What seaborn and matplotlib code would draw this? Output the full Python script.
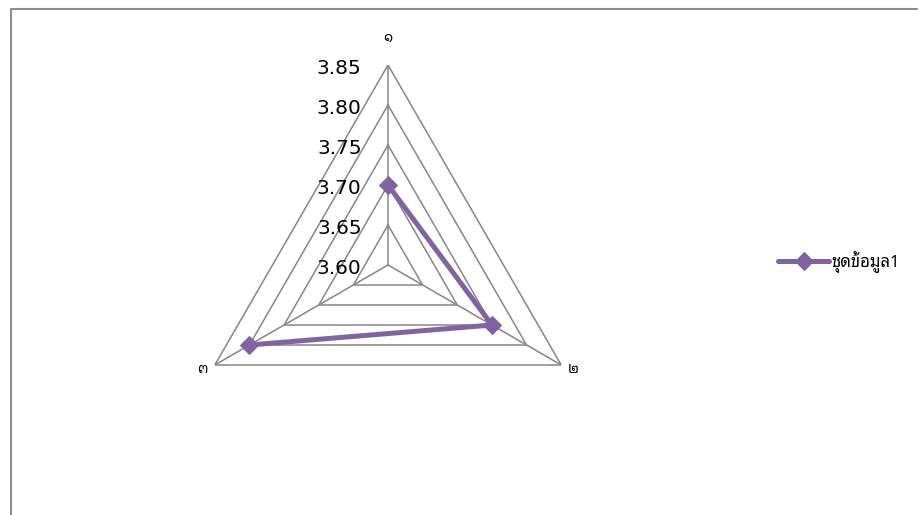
import matplotlib
matplotlib.use("Agg")
import matplotlib.pyplot as plt
import seaborn as sns
import numpy as np

categories = ["๑", "๒", "๓"]
values = [3.70, 3.75, 3.80]
series_name = "ชุดข้อมูล1"
r_ticks = [3.60, 3.65, 3.70, 3.75, 3.80, 3.85]
tick_labels = ["3.60", "3.65", "3.70", "3.75", "3.80", "3.85"]

LINE_COLOR = "#8064A2"
GRID_COLOR = "#868686"

sns.set_theme(style="white")
plt.rcParams["font.family"] = ["Noto Sans Thai Looped", "DejaVu Sans"]
plt.rcParams["text.color"] = "black"

fig = plt.figure(figsize=(9.18, 5.15), dpi=100)
ax = fig.add_axes([188 / 918, 50 / 515, 400 / 918, 400 / 515], projection="polar")
ax.set_theta_offset(np.pi / 2)
ax.set_theta_direction(-1)
ax.set_ylim(r_ticks[0], r_ticks[-1])

theta = np.linspace(0, 2 * np.pi, len(categories), endpoint=False)
theta_closed = np.append(theta, theta[0])

# triangular grid instead of the default circles
ax.grid(False)
ax.spines["polar"].set_visible(False)
ax.set_xticks([])
ax.set_yticks([])
for r in r_ticks[1:]:
    ax.plot(theta_closed, [r] * len(theta_closed), color=GRID_COLOR, lw=1.1, zorder=1)
for t in theta:
    ax.plot([t, t], [r_ticks[0], r_ticks[-1]], color=GRID_COLOR, lw=1.1, zorder=1)

for r, lab in zip(r_ticks, tick_labels):
    ax.annotate(lab, xy=(0, r), xytext=(-19, -1), textcoords="offset points",
                ha="right", va="center_baseline", fontsize=14.5, family="DejaVu Sans")

offsets = [(0, 14), (5, -3), (-5, -3)]
aligns = [("center", "bottom"), ("left", "center"), ("right", "center")]
for t, lab, off, (ha, va) in zip(theta, categories, offsets, aligns):
    ax.annotate(lab, xy=(t, r_ticks[-1]), xytext=off, textcoords="offset points",
                ha=ha, va=va, fontsize=10)

vals_closed = values + values[:1]
sns.lineplot(x=theta_closed, y=vals_closed, sort=False, ax=ax, color=LINE_COLOR,
             lw=3.6, marker="D", markersize=9, markeredgecolor=LINE_COLOR,
             label=series_name, zorder=3)

ax.legend(loc="center left", bbox_to_anchor=(771 / 918, 1 - 262 / 515),
          bbox_transform=fig.transFigure, frameon=False, fontsize=12,
          handlelength=3.1, handletextpad=0.1, borderaxespad=0)

# outer chart border (left and top edges visible)
fig.add_artist(plt.Line2D([11 / 918, 11 / 918, 917 / 918], [0, 1 - 9 / 515, 1 - 9 / 515],
                          transform=fig.transFigure, color="#8c8c8c", lw=1.5))

fig.savefig("out.png", dpi=100)
